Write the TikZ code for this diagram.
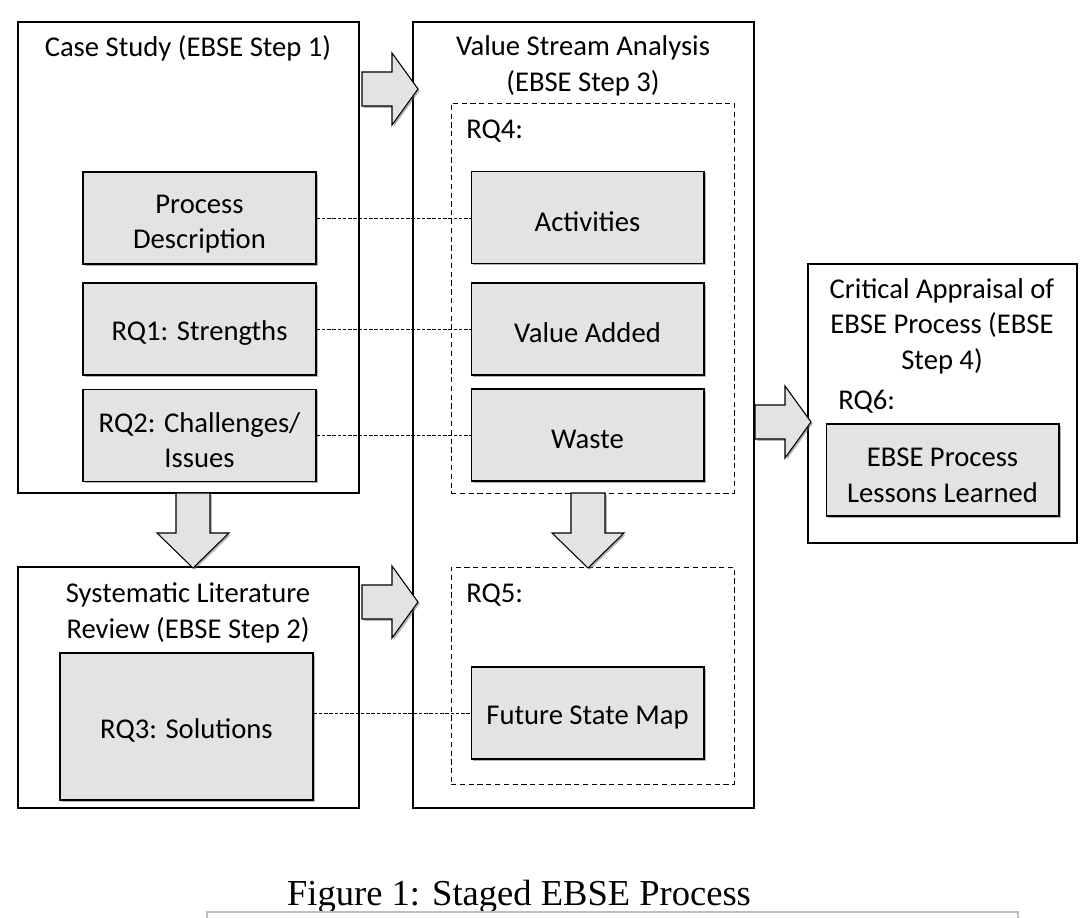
\documentclass[tikz,border=0pt]{standalone}
\usepackage{fontspec}
\setmainfont{Carlito}
\newfontfamily\capfont{Liberation Serif}
\usetikzlibrary{shadows}

\begin{document}
\begin{tikzpicture}
  [x=0.02cm,y=-0.02cm,
   font=\fontsize{16.3}{20.2}\selectfont,
   stage/.style={draw,line width=0.7pt,minimum width=6.82cm},
   rqframe/.style={draw,line width=0.5pt,dash pattern=on 3pt off 2pt,minimum width=5.66cm},
   item/.style={draw,line width=0.6pt,fill=gray!22,align=center,minimum width=4.66cm,minimum height=1.84cm,
     execute at begin node={\rule{0pt}{#1}},
     drop shadow={shadow xshift=1pt,shadow yshift=-1pt,fill=black!60,opacity=0.5}},
   item/.default=15.5pt,
   title/.style={align=center,inner sep=0pt},
   arrowfill/.style={draw,line width=0.6pt,fill=gray!22,
     drop shadow={shadow xshift=1pt,shadow yshift=-1pt,fill=black!60,opacity=0.5}},
   rightarrow/.pic={\path[arrowfill] (-28,-17) -- (2,-17) -- (2,-36) -- (28,0) -- (2,36) -- (2,17) -- (-28,17) -- cycle;},
   downarrow/.pic={\path[arrowfill] (-17,-37.5) -- (17,-37.5) -- (17,2.5) -- (36,2.5) -- (0,37.5) -- (-36,2.5) -- (-17,2.5) -- cycle;},
   link/.style={line width=0.5pt,dash pattern=on 2pt off 1pt}]

  \useasboundingbox (0,0) rectangle (1092,918);

  \node[style={stage,minimum height=9.42cm}] (casestudy) at (188.5,257.5) {};
  \node[style={stage,minimum height=4.82cm}] (slr) at (188.5,687.5) {};
  \node[style={stage,minimum height=15.72cm}] (vsa) at (583.5,415) {};
  \node[style={stage,minimum width=5.38cm,minimum height=5.58cm}] (appraisal) at (942.5,403.5) {};

  \node[style={rqframe,minimum height=7.8cm}] (rq4) at (592.5,298) {};
  \node[style={rqframe,minimum height=4.34cm}] (rq5) at (592.5,675.5) {};

  \node[title] (t1) at (188,48) {Case Study (EBSE Step 1)};
  \node[title] (t2) at (188,613) {Systematic Literature\\Review (EBSE Step 2)};
  \node[title] (t3) at (583,66) {Value Stream Analysis\\(EBSE Step 3)};
  \node[title] (t4) at (942,326) {Critical Appraisal of\\EBSE Process (EBSE\\Step 4)};

  \node[title,anchor=west] (l4) at (466,131) {RQ4:};
  \node[title,anchor=west] (l5) at (466,595) {RQ5:};
  \node[title,anchor=west] (l6) at (838,402) {RQ6:};

  \node[item=37.5pt] (procdesc) at (199.5,218) {Process\\Description};
  \node[item] (strengths) at (199.5,329) {RQ1: Strengths};
  \node[item=37pt] (issues) at (199.5,435.5) {RQ2: Challenges/\\Issues};
  \node[item,minimum width=5.06cm,minimum height=2.94cm] (solutions) at (186.5,726.5) {RQ3: Solutions};

  \node[item] (activities) at (587.5,217.5) {Activities};
  \node[item] (valueadded) at (587.5,329) {Value Added};
  \node[item] (waste) at (587.5,435) {Waste};
  \node[item] (futuremap) at (587.5,713) {Future State Map};

  \node[item=37pt] (lessons) at (942.5,470) {EBSE Process\\Lessons Learned};

  \pic at (390,89) {rightarrow};
  \pic at (390,602) {rightarrow};
  \pic at (783,422) {rightarrow};
  \pic at (193,530.5) {downarrow};
  \pic at (588,530.5) {downarrow};

  \foreach \from/\to in {procdesc/activities,strengths/valueadded,issues/waste}
    \draw[link] (\from.east) -- (\from.east -| \to.west);
  \draw[link] (solutions.east |- futuremap.west) -- (futuremap.west);

  \node[font=\capfont\fontsize{20.8}{24}\selectfont,anchor=base,inner sep=0pt] (caption) at (519,905) {Figure 1: Staged EBSE Process};
  \draw[gray!50,line width=0.6pt] (207,918) -- (207,912) -- (1018,912) -- (1018,918);
\end{tikzpicture}
\end{document}
